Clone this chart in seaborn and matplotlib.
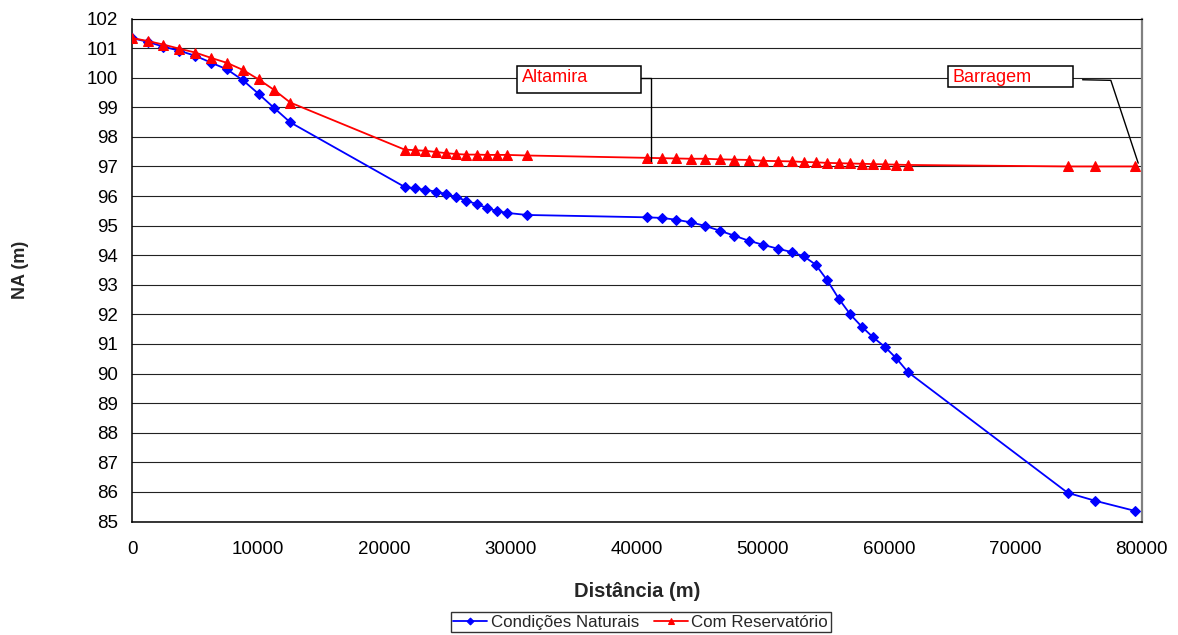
import matplotlib
matplotlib.use("Agg")
import matplotlib.pyplot as plt
import seaborn as sns
import pandas as pd
from matplotlib.patches import Rectangle

# ---- data ----
distancia = [0, 1244, 2480, 3750, 5015, 6260, 7530, 8800, 10040, 11280, 12540,
             21600, 22400, 23220, 24060, 24870, 25670, 26490, 27310, 28110, 28910, 29720, 31300,
             40850, 41990, 43120, 44290, 45430, 46570, 47730, 48880, 50020, 51180, 52340,
             53250, 54180, 55100, 56010, 56920, 57820, 58740, 59670, 60580, 61490,
             74150, 76330, 79470]
naturais = [101.34, 101.21, 101.05, 100.91, 100.74, 100.51, 100.28, 99.91, 99.45, 98.97, 98.49,
            96.31, 96.26, 96.21, 96.15, 96.07, 95.97, 95.84, 95.73, 95.60, 95.49, 95.43, 95.36,
            95.28, 95.26, 95.20, 95.11, 94.99, 94.83, 94.66, 94.49, 94.35, 94.22, 94.10,
            93.96, 93.68, 93.15, 92.53, 92.00, 91.59, 91.22, 90.90, 90.51, 90.05,
            85.97, 85.70, 85.36]
reservatorio = [101.34, 101.24, 101.12, 100.98, 100.85, 100.67, 100.50, 100.26, 99.94, 99.58, 99.16,
                97.57, 97.55, 97.53, 97.49, 97.45, 97.42, 97.40, 97.40, 97.39, 97.39, 97.39, 97.37,
                97.29, 97.28, 97.27, 97.26, 97.26, 97.24, 97.23, 97.22, 97.19, 97.18, 97.17,
                97.15, 97.14, 97.12, 97.11, 97.10, 97.09, 97.08, 97.07, 97.06, 97.05,
                97.00, 97.00, 97.00]
series_names = ["Condições Naturais", "Com Reservatório"]
x_ticks = list(range(0, 80001, 10000))
y_ticks = list(range(85, 103))

# annotation boxes (data coords)
altamira_box = (30530, 99.48, 40310, 100.41)
altamira_text = (30880, 100.00)
altamira_leader_x = [40310, 41100, 41100]
altamira_leader_y = [99.99, 99.99, 97.17]
barragem_box = (64680, 99.67, 74540, 100.41)
barragem_text = (65030, 100.00)
barragem_leader_x = [75330, 77570, 79740]
barragem_leader_y = [99.93, 99.91, 97.11]

df = pd.DataFrame({"Distância": distancia, series_names[0]: naturais, series_names[1]: reservatorio})

sns.set_style("white")
plt.rcParams['font.family'] = ['Liberation Sans', 'DejaVu Sans']

fig = plt.figure(figsize=(11.78, 6.35), dpi=100)
ax = fig.add_axes([132 / 1178, 1 - 521.5 / 635, (1141.5 - 132) / 1178, (521.5 - 18.5) / 635])

sns.lineplot(data=df, x="Distância", y=series_names[0], ax=ax, color="#0000FF", marker="D",
             markersize=5, markeredgecolor="#0000FF", linewidth=1.3, label=series_names[0], zorder=3)
sns.lineplot(data=df, x="Distância", y=series_names[1], ax=ax, color="#FF0000", marker="^",
             markersize=6.5, markeredgecolor="#FF0000", linewidth=1.3, label=series_names[1], zorder=4)

ax.set_xlim(0, 80000)
ax.set_ylim(85, 102)
ax.set_xticks(x_ticks)
ax.set_yticks(y_ticks)
ax.set_xticklabels([str(t) for t in x_ticks])
ax.set_yticklabels([str(t) for t in y_ticks])
ax.tick_params(axis='both', which='major', direction='out', length=5, width=1, color='black',
               labelsize=13.5, labelcolor='black')
ax.tick_params(axis='x', pad=9)
ax.tick_params(axis='y', pad=5)
ax.yaxis.grid(True, color='#222222', linewidth=0.8)
ax.xaxis.grid(False)
ax.set_axisbelow(True)

for s in ['left', 'bottom', 'top']:
    ax.spines[s].set_color('black')
    ax.spines[s].set_linewidth(1.1)
ax.spines['top'].set_linewidth(0.8)
ax.spines['right'].set_color('#808080')
ax.spines['right'].set_linewidth(1.6)

ax.set_xlabel("Distância (m)", fontsize=14.5, fontweight='bold', labelpad=17)
ax.set_ylabel("NA (m)", fontsize=13, fontweight='bold')
ax.yaxis.set_label_coords(-0.102, 0.5)

# annotations
for box, txt, lx, ly, label in [
        (altamira_box, altamira_text, altamira_leader_x, altamira_leader_y, "Altamira"),
        (barragem_box, barragem_text, barragem_leader_x, barragem_leader_y, "Barragem")]:
    ax.add_patch(Rectangle((box[0], box[1]), box[2] - box[0], box[3] - box[1],
                           facecolor='white', edgecolor='black', linewidth=1.1, zorder=5))
    ax.text(txt[0], txt[1], label, color='#FF0000', fontsize=13, ha='left', va='center', zorder=6)
    ax.plot(lx, ly, color='black', linewidth=1.0, zorder=5)

leg = ax.legend(loc='lower center', bbox_to_anchor=(0.544, 0.004), bbox_transform=fig.transFigure,
                ncol=2, frameon=True, fancybox=False, fontsize=12.2, handlelength=2.0,
                handletextpad=0.2, columnspacing=0.9, borderpad=0.15, borderaxespad=0,
                markerscale=0.7)
leg.get_frame().set_edgecolor('black')
leg.get_frame().set_linewidth(1.0)

fig.savefig("out.png", dpi=100)
